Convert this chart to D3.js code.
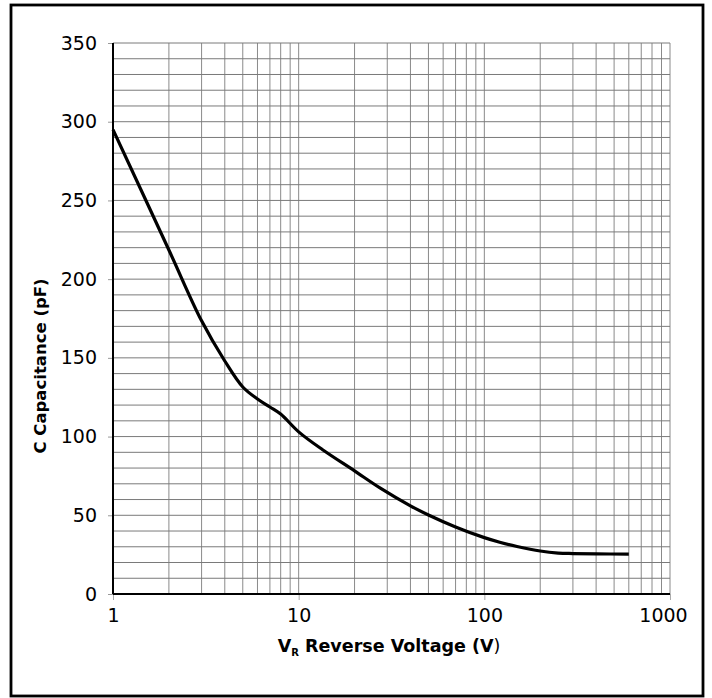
<!DOCTYPE html>
<html>
<head>
<meta charset="utf-8">
<script src="https://cdn.jsdelivr.net/npm/d3@7"></script>
<style>
html,body{margin:0;padding:0;background:#fff;}
svg{display:block;}
</style>
</head>
<body>
<svg id="chart" width="712" height="698"></svg>
<script>
// Data
const voltage = [1, 2, 3, 4, 5, 6, 7, 8, 10, 13.4, 20, 27.4, 40, 50, 70, 100, 121, 150, 200, 250, 300, 400, 600];
const capacitance = [295, 218.5, 173.5, 148, 131.5, 123.9, 118.8, 114.3, 103, 91.8, 78.2, 67.4, 56, 50.2, 42.6, 35.8, 32.9, 30.2, 27.3, 26, 25.7, 25.5, 25.3];
const xTickValues = [1, 10, 100, 1000];
const xTickLabels = ["1", "10", "100", "1000"];
const yTickValues = [0, 50, 100, 150, 200, 250, 300, 350];
const yTitle = "C Capacitance (pF)";
const xTitleMain = "V";
const xTitleSub = "R";
const xTitleRest = " Reverse Voltage (V";
const xTitleEnd = ")";

const svg = d3.select("#chart");
const plot = {left: 113, right: 670, top: 43, bottom: 594};
const font = "'DejaVu Sans', Verdana, sans-serif";

// outer frame
svg.append("rect").attr("x", 11).attr("y", 5).attr("width", 692).attr("height", 691)
  .attr("fill", "#fff").attr("stroke", "#000").attr("stroke-width", 2.8);

const x = d3.scaleLog().domain([1, 1000]).range([plot.left, plot.right]);
const y = d3.scaleLinear().domain([0, 350]).range([plot.bottom, plot.top]);

// grid: vertical lines at every 1..9 per decade, horizontal every 10 pF
const xGrid = [];
for (let d = 1; d <= 100; d *= 10) for (let m = 1; m <= 9; m++) xGrid.push(d * m);
xGrid.push(1000);
const yGrid = d3.range(0, 351, 10);

const g = svg.append("g");
g.selectAll("line.vg").data(xGrid.filter(v => v > 1)).enter().append("line")
  .attr("x1", d => x(d)).attr("x2", d => x(d))
  .attr("y1", plot.top).attr("y2", plot.bottom)
  .attr("stroke", "#8a8a8a").attr("stroke-width", 1);
g.selectAll("line.hg").data(yGrid.filter(v => v > 0)).enter().append("line")
  .attr("x1", plot.left).attr("x2", plot.right)
  .attr("y1", d => y(d)).attr("y2", d => y(d))
  .attr("stroke", "#7a7a7a").attr("stroke-width", 1);

// axes
const yAxis = d3.axisLeft(y).tickValues(yTickValues).tickSize(5).tickPadding(11);
const ya = svg.append("g").attr("transform", `translate(${plot.left},0)`).call(yAxis);
ya.select(".domain").remove();
ya.selectAll(".tick line").attr("stroke", "#999");
ya.selectAll(".tick text").attr("font-family", font).attr("font-size", 19).attr("fill", "#000");

const xAxis = d3.axisBottom(x).tickValues(xTickValues).tickFormat((d, i) => xTickLabels[i]).tickSize(6).tickPadding(9);
const xa = svg.append("g").attr("transform", `translate(0,${plot.bottom})`).call(xAxis);
xa.select(".domain").remove();
xa.selectAll(".tick line").attr("stroke", "#aaa");
xa.selectAll(".tick text").attr("font-family", font).attr("font-size", 19).attr("fill", "#000")
  .attr("dx", (d) => d === 1000 ? -7 : 0);

// axis lines (left & bottom black)
svg.append("line").attr("x1", plot.left).attr("x2", plot.left).attr("y1", plot.top).attr("y2", plot.bottom)
  .attr("stroke", "#000").attr("stroke-width", 2);
svg.append("line").attr("x1", plot.left).attr("x2", plot.right).attr("y1", plot.bottom).attr("y2", plot.bottom)
  .attr("stroke", "#000").attr("stroke-width", 2);

// curve
const data = voltage.map((v, i) => ({v, c: capacitance[i]}));
const line = d3.line().x(d => x(d.v)).y(d => y(d.c)).curve(d3.curveCatmullRom.alpha(0.5));
svg.append("path").datum(data).attr("d", line)
  .attr("fill", "none").attr("stroke", "#000").attr("stroke-width", 3.2)
  .attr("stroke-linejoin", "round").attr("stroke-linecap", "butt");

// titles
svg.append("text")
  .attr("transform", `translate(46,366) rotate(-90)`)
  .attr("text-anchor", "middle")
  .attr("font-family", font).attr("font-size", 16.5).attr("font-weight", "bold")
  .text(yTitle);

const xt = svg.append("text").attr("x", 389).attr("y", 652)
  .attr("text-anchor", "middle")
  .attr("font-family", font).attr("font-size", 17.5).attr("font-weight", "bold");
xt.append("tspan").text(xTitleMain);
xt.append("tspan").attr("font-size", 10).attr("dy", 4).text(xTitleSub);
xt.append("tspan").attr("dy", -4).text(xTitleRest);
xt.append("tspan").attr("font-weight", "normal").text(xTitleEnd);
</script>
</body>
</html>
